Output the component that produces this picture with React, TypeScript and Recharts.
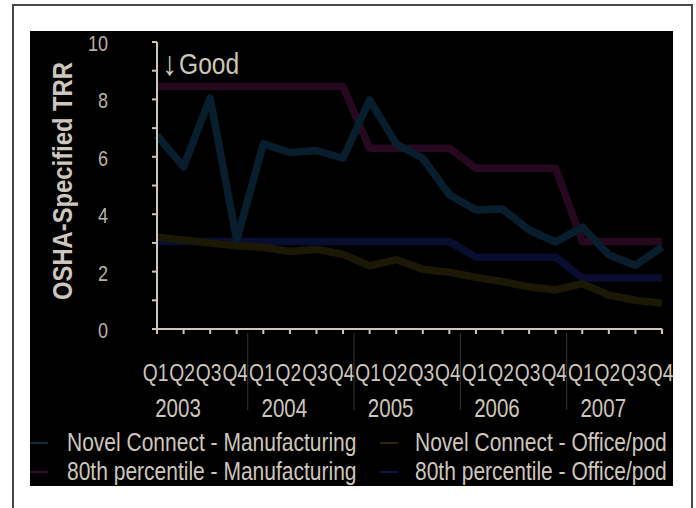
import React from "react";
import { LineChart, Line, XAxis, YAxis, Legend } from "recharts";

const quarters = [
  "Q1", "Q2", "Q3", "Q4", "Q1", "Q2", "Q3", "Q4", "Q1", "Q2",
  "Q3", "Q4", "Q1", "Q2", "Q3", "Q4", "Q1", "Q2", "Q3", "Q4",
];
const years = ["2003", "2004", "2005", "2006", "2007"];

const novelMfg = [
  6.75, 5.65, 8.05, 3.1, 6.45, 6.15, 6.22, 5.95, 7.98, 6.45,
  5.95, 4.68, 4.15, 4.18, 3.45, 3.03, 3.55, 2.58, 2.22, 2.86,
];
const pctMfg = [
  8.45, 8.45, 8.45, 8.45, 8.45, 8.45, 8.45, 8.45, 6.3, 6.3,
  6.3, 6.3, 5.6, 5.6, 5.6, 5.6, 3.05, 3.05, 3.05, 3.05,
];
const novelOffice = [
  3.2, 3.1, 3.0, 2.9, 2.85, 2.7, 2.78, 2.6, 2.2, 2.42,
  2.08, 1.98, 1.8, 1.65, 1.47, 1.36, 1.58, 1.18, 1.0, 0.9,
];
const pctOffice = [
  3.05, 3.05, 3.05, 3.05, 3.05, 3.05, 3.05, 3.05, 3.05, 3.05,
  3.05, 3.05, 2.5, 2.5, 2.5, 2.5, 1.78, 1.78, 1.78, 1.78,
];
const yTicks = [0, 1, 2, 3, 4, 5, 6, 7, 8, 9, 10];

const series = [
  { key: "pctMfg", name: "80th percentile - Manufacturing", color: "#26081f" },
  { key: "pctOffice", name: "80th percentile - Office/pod", color: "#090d30" },
  { key: "novelOffice", name: "Novel Connect - Office/pod", color: "#1b1906" },
  { key: "novelMfg", name: "Novel Connect - Manufacturing", color: "#081e2c" },
];

const data = quarters.map((q, i) => ({
  id: i,
  q,
  year: years[Math.floor(i / 4)],
  novelMfg: novelMfg[i],
  pctMfg: pctMfg[i],
  novelOffice: novelOffice[i],
  pctOffice: pctOffice[i],
}));

const FONT = "'Liberation Sans', Arial, sans-serif";
const TEXT = "#cec6bc";
const AXIS = "#cfc6bb";
const SX = 0.82; // squeeze to mimic the condensed face

// svg text squeezed horizontally around its anchor
const Narrow = ({ x, y, size, anchor = "middle", bold = false, rotate = 0, sx = SX, fill = TEXT, children }: any) => (
  <text
    transform={`translate(${x},${y}) rotate(${rotate}) scale(${sx},1)`}
    x={0}
    y={0}
    textAnchor={anchor}
    fill={fill}
    fontSize={size}
    fontWeight={bold ? "bold" : "normal"}
    fontFamily={FONT}
  >
    {children}
  </text>
);

const XTick = (props: any) => {
  const { x, y, index } = props;
  return (
    <g>
      <Narrow x={x - 1.5} y={y + 47} size={24} sx={0.8}>
        {quarters[index]}
      </Narrow>
      {index % 4 === 0 && (
        <Narrow x={x + 21} y={y + 83} size={25}>
          {years[index / 4]}
        </Narrow>
      )}
      {index % 4 === 3 && index < 19 && (
        <line x1={x + 11} x2={x + 11} y1={y - 1} y2={y + 76} stroke="#3a3836" strokeWidth={1} />
      )}
    </g>
  );
};

const YTick = (props: any) => {
  const { y, payload } = props;
  if (payload.value % 2 !== 0) return <g />;
  return (
    <Narrow x={78} y={y + 9} size={22} anchor="end" fill="#b8b0a6">
      {payload.value}
    </Narrow>
  );
};

const legendCells = [
  { name: "Novel Connect - Manufacturing", color: "#0c2a40", mx: 0, tx: 37 },
  { name: "Novel Connect - Office/pod", color: "#2a2808", mx: 350, tx: 385 },
  { name: "80th percentile - Manufacturing", color: "#3a0c2c", mx: 0, tx: 37 },
  { name: "80th percentile - Office/pod", color: "#0c1442", mx: 350, tx: 385 },
];

const LegendContent = () => (
  <div style={{ position: "relative", width: 643, height: 58, fontFamily: FONT }}>
    {legendCells.map((c, i) => {
      const top = Math.floor(i / 2) * 29;
      return (
        <React.Fragment key={c.name}>
          <div
            style={{
              position: "absolute",
              left: c.mx,
              top: top + 14,
              width: 18,
              height: 2,
              background: c.color,
            }}
          />
          <div
            style={{
              position: "absolute",
              left: c.tx,
              top,
              height: 29,
              lineHeight: "29px",
              fontSize: 25,
              color: TEXT,
              whiteSpace: "nowrap",
              transform: "scaleX(0.84)",
              transformOrigin: "0 50%",
            }}
          >
            {c.name}
          </div>
        </React.Fragment>
      );
    })}
  </div>
);

export default function App() {
  return (
    <div
      style={{
        position: "absolute",
        left: 0,
        top: 0,
        width: 696,
        height: 508,
        background: "#ffffff",
        overflow: "hidden",
      }}
    >
      <div
        style={{
          position: "absolute",
          left: 12,
          top: 4,
          width: 677,
          height: 520,
          border: "2px solid #4a4a4a",
        }}
      />
      <div
        style={{
          position: "absolute",
          left: 30,
          top: 31,
          width: 643,
          height: 455,
          background: "#000000",
        }}
      >
        <LineChart
          width={643}
          height={455}
          data={data}
          style={{ overflow: "visible" }}
          margin={{ top: 11, right: 11, bottom: 67, left: 27 }}
        >
          <XAxis
            dataKey="id"
            type="category"
            tick={<XTick />}
            interval={0}
            tickSize={5}
            tickMargin={0}
            height={90}
            axisLine={{ stroke: AXIS, strokeWidth: 2 }}
            tickLine={{ stroke: AXIS, strokeWidth: 2 }}
          />
          <YAxis
            domain={[0, 10]}
            ticks={yTicks}
            interval={0}
            width={100}
            tickSize={5}
            tick={<YTick />}
            axisLine={{ stroke: AXIS, strokeWidth: 2 }}
            tickLine={{ stroke: AXIS, strokeWidth: 2 }}
          />
          <Legend
            layout="vertical"
            align="center"
            verticalAlign="middle"
            wrapperStyle={{ left: 0, top: 397, width: 643 }}
            content={<LegendContent />}
          />
          {series.map((s) => (
            <Line
              key={s.key}
              dataKey={s.key}
              name={s.name}
              stroke={s.color}
              strokeWidth={7.5}
              dot={false}
              activeDot={false}
              strokeLinejoin="round"
              isAnimationActive={false}
            />
          ))}
          <Narrow x={32} y={150} size={28} bold rotate={-90} sx={0.85}>
            <tspan dominantBaseline="central">OSHA-Specified TRR</tspan>
          </Narrow>
          <Narrow x={132} y={44} size={34} anchor="start" bold sx={0.9}>
            ↓
          </Narrow>
          <Narrow x={149} y={43} size={30} anchor="start">
            Good
          </Narrow>
        </LineChart>
      </div>
    </div>
  );
}
